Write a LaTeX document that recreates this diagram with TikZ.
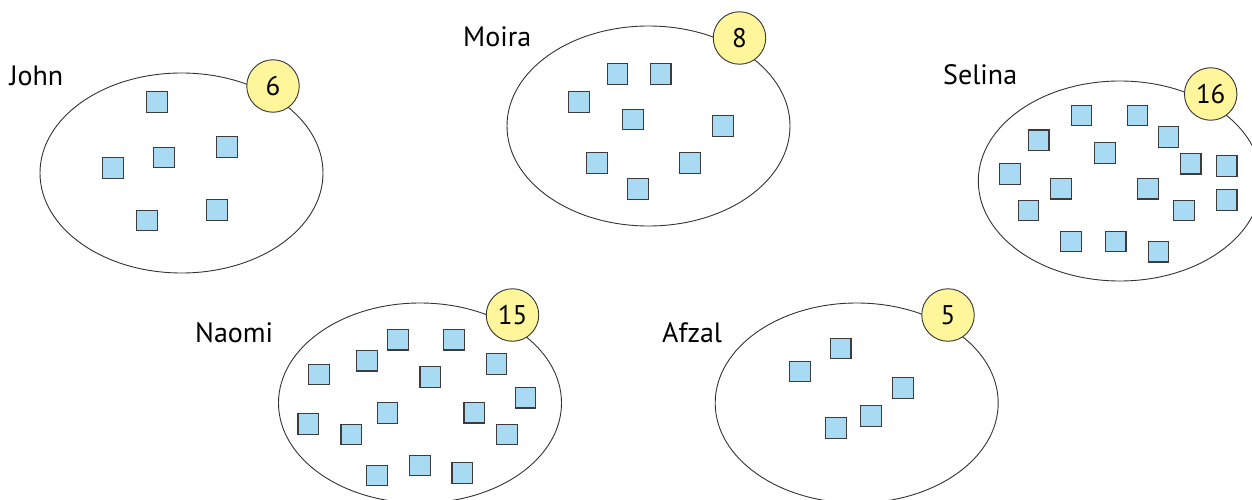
\documentclass[tikz,border=0pt]{standalone}
\usepackage{fontspec}
\setmainfont{PT Sans}
\usetikzlibrary{shapes.geometric}
\definecolor{sqfill}{HTML}{A8DAF4}
\definecolor{badgefill}{HTML}{FFF59A}
\definecolor{edgec}{HTML}{3C3C3C}
\definecolor{ringc}{HTML}{333333}
\begin{document}
\begin{tikzpicture}[x=1pt,y=-1pt,
  grp/.style={ellipse,draw=ringc,line width=0.9pt,fill=white,minimum width=283pt,minimum height=200pt,inner sep=0pt},
  badge/.style={circle,draw=ringc,line width=0.9pt,fill=badgefill,minimum size=52.5pt,inner sep=0pt,font=\fontsize{27}{29}\selectfont},
  sq/.style={rectangle,draw=edgec,line width=1.1pt,fill=sqfill,minimum size=20.5pt,inner sep=0pt},
  lbl/.style={anchor=base west,inner sep=0pt,font=\fontsize{28}{30}\selectfont}]
\useasboundingbox (0,0) rectangle (1252,500);
\clip (0,0) rectangle (1252,500);
% groups
\node[grp] (john) at (181.5,173) {};
\node[grp] (moira) at (648.5,126) {};
\node[grp] (selina) at (1119.8,181) {};
\node[grp] (naomi) at (420,403) {};
\node[grp] (afzal) at (856.7,403) {};
% labels
\node[lbl] (ljohn) at (9.3,86) {John};
\node[lbl] (lmoira) at (463,47) {Moira};
\node[lbl] (lselina) at (943,85) {Selina};
\node[lbl] (lnaomi) at (195,342) {Naomi};
\node[lbl] (lafzal) at (662,342) {Afzal};
% badges
\node[badge] (bjohn) at (273,86) {6};
\node[badge] (bmoira) at (739.5,38) {8};
\node[badge] (bselina) at (1210.7,94) {16};
\node[badge] (bnaomi) at (512.5,315) {15};
\node[badge] (bafzal) at (948,315) {5};
% John squares
\node[sq] (j1) at (157,102) {};
\node[sq] (j2) at (113,168) {};
\node[sq] (j3) at (164,157.5) {};
\node[sq] (j4) at (227,147) {};
\node[sq] (j5) at (147,220.5) {};
\node[sq] (j6) at (217,210) {};
% Moira squares
\node[sq] (m1) at (617.5,74) {};
\node[sq] (m2) at (660.7,74) {};
\node[sq] (m3) at (579,102) {};
\node[sq] (m4) at (633,119.5) {};
\node[sq] (m5) at (723,126) {};
\node[sq] (m6) at (597,163) {};
\node[sq] (m7) at (690,163) {};
\node[sq] (m8) at (638,189) {};
% Selina squares
\node[sq] (s1) at (1081.5,115.7) {};
\node[sq] (s2) at (1137.5,115.7) {};
\node[sq] (s3) at (1038.7,140.3) {};
\node[sq] (s4) at (1168.3,137) {};
\node[sq] (s5) at (1105,153) {};
\node[sq] (s6) at (1190.7,163.7) {};
\node[sq] (s7) at (1226.7,166) {};
\node[sq] (s8) at (1009.8,173.8) {};
\node[sq] (s9) at (1060.8,188.7) {};
\node[sq] (s10) at (1147.8,188.7) {};
\node[sq] (s11) at (1226.7,200) {};
\node[sq] (s12) at (1028.3,210.3) {};
\node[sq] (s13) at (1184,210.3) {};
\node[sq] (s14) at (1070.8,241.3) {};
\node[sq] (s15) at (1115.7,241.3) {};
\node[sq] (s16) at (1158.3,251.7) {};
% Naomi squares
\node[sq] (n1) at (397.8,339.7) {};
\node[sq] (n2) at (453.8,339.7) {};
\node[sq] (n3) at (366.8,360.7) {};
\node[sq] (n4) at (318.8,374.3) {};
\node[sq] (n5) at (430.2,376.8) {};
\node[sq] (n6) at (496.5,364) {};
\node[sq] (n7) at (525.3,397.7) {};
\node[sq] (n8) at (387.3,412.8) {};
\node[sq] (n9) at (308.2,424) {};
\node[sq] (n10) at (474.2,412.7) {};
\node[sq] (n11) at (351.2,434.3) {};
\node[sq] (n12) at (506.8,434.3) {};
\node[sq] (n13) at (419.8,465.3) {};
\node[sq] (n14) at (376.8,475.5) {};
\node[sq] (n15) at (462.2,472.8) {};
% Afzal squares
\node[sq] (a1) at (840.7,348.5) {};
\node[sq] (a2) at (800,371.5) {};
\node[sq] (a3) at (903,387.8) {};
\node[sq] (a4) at (871,416) {};
\node[sq] (a5) at (835.8,428) {};
\end{tikzpicture}
\end{document}
